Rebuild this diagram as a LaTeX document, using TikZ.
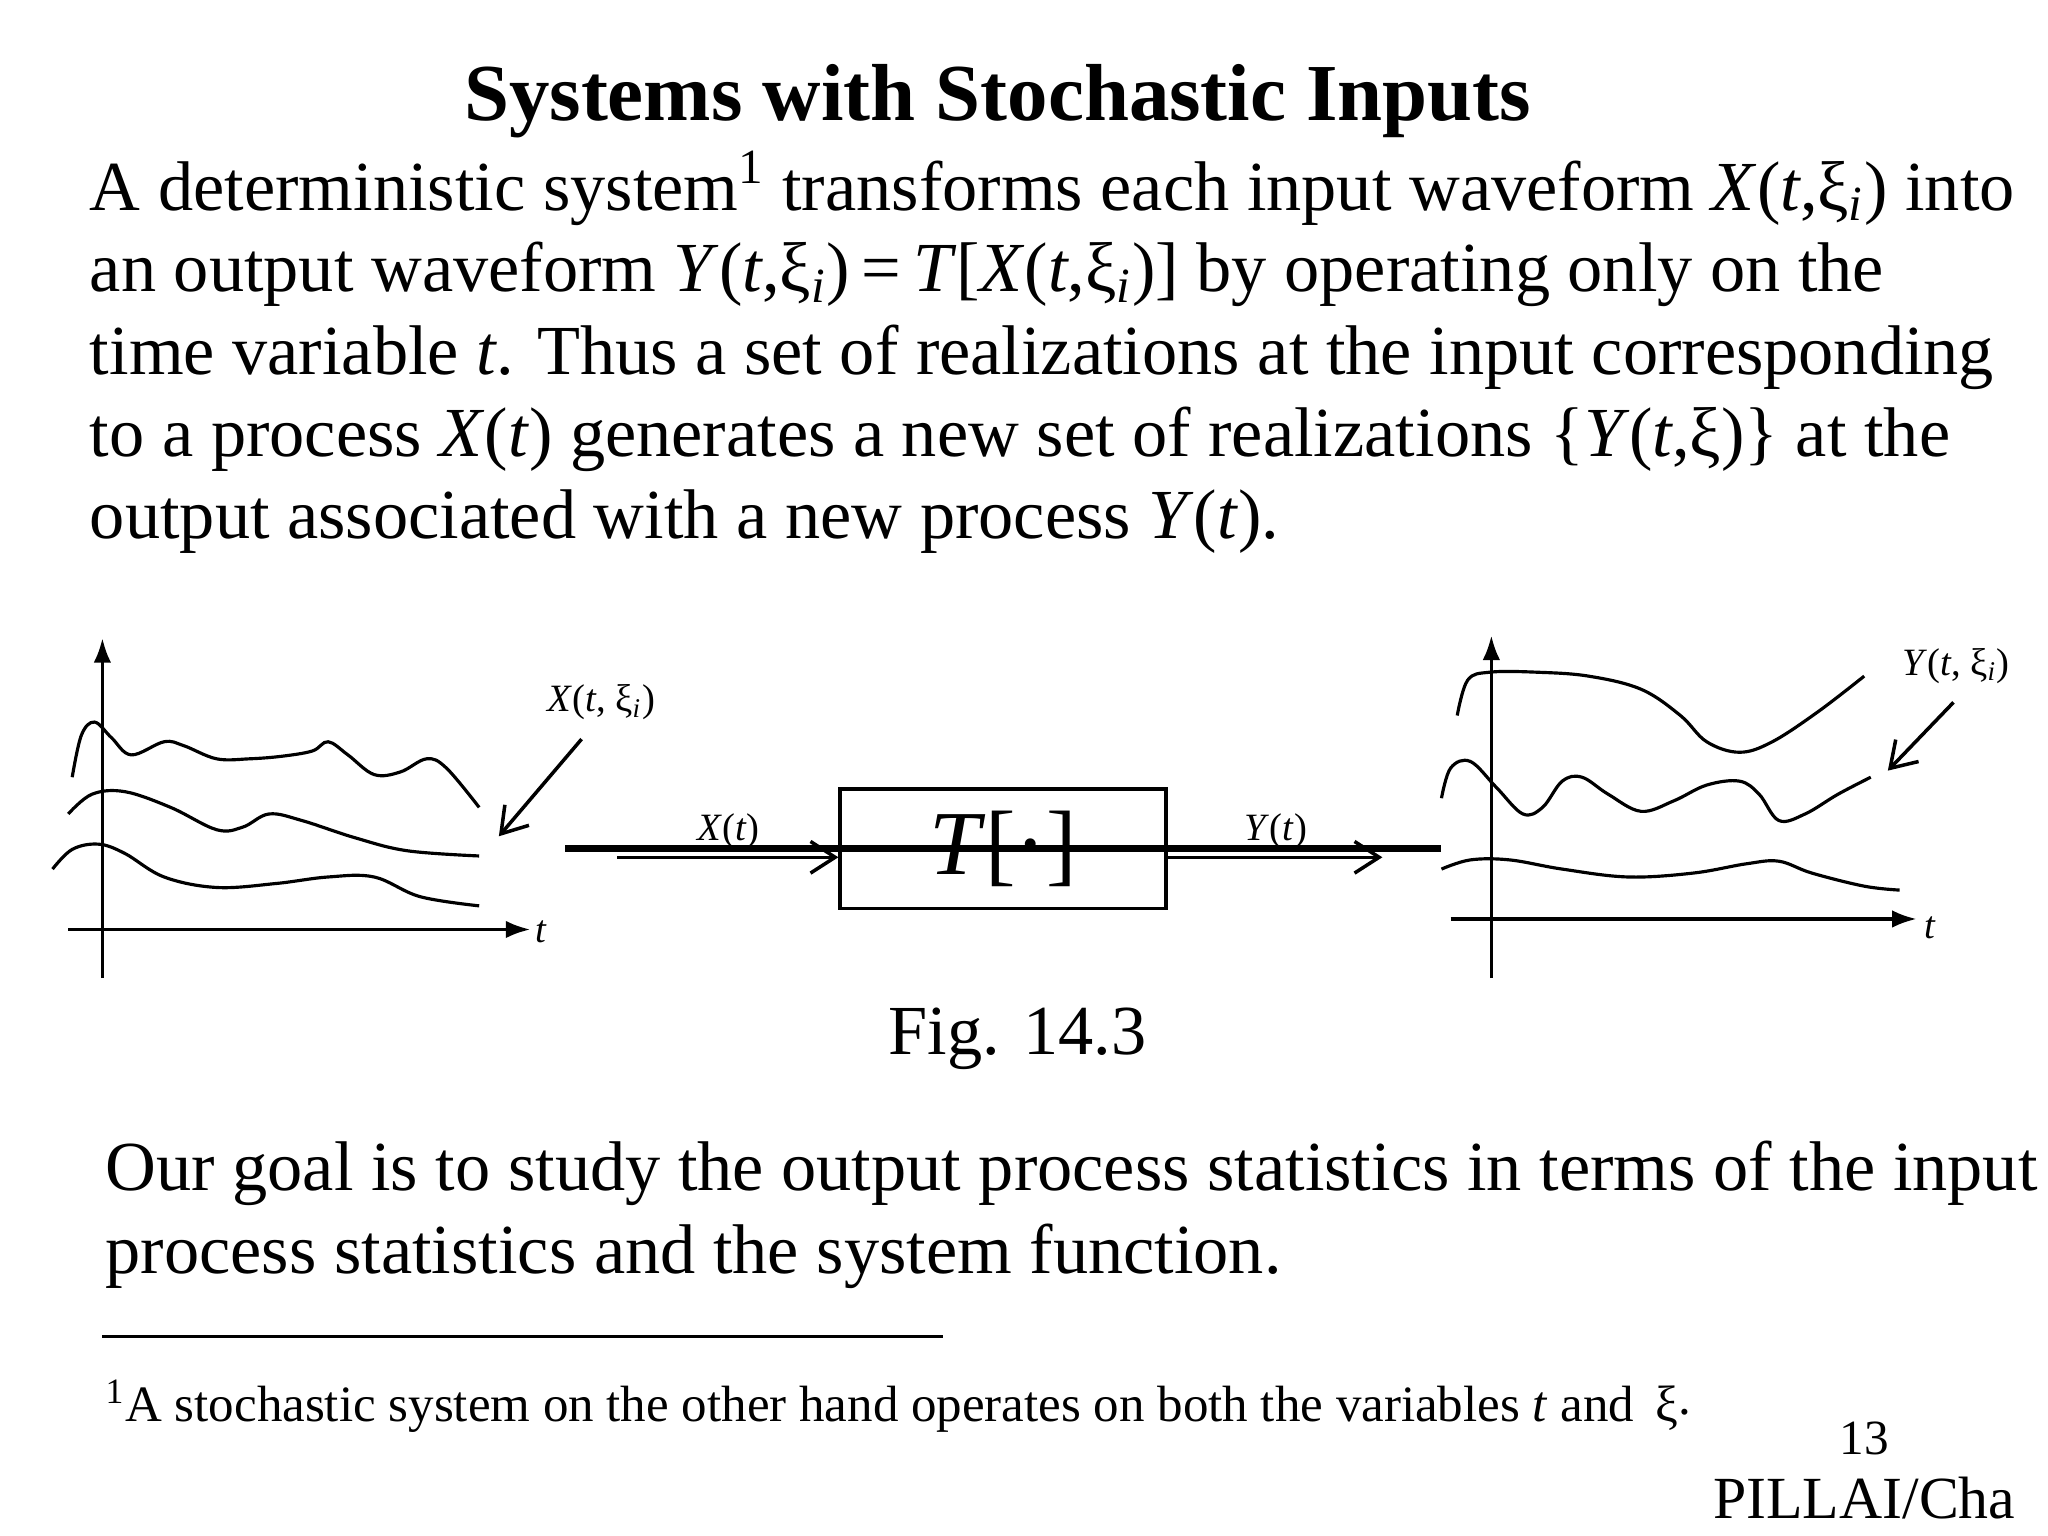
\documentclass[tikz,border=0pt]{standalone}
\usepackage{fontspec}
\setmainfont{Liberation Serif}
\usetikzlibrary{arrows.meta}
\newcommand{\iv}[1]{\textit{#1}}
\begin{document}
\begin{tikzpicture}[x=0.013128cm,y=-0.013128cm,
 body/.style={anchor=base west,inner sep=0,font=\fontsize{20}{24}\selectfont},
 lbl/.style={inner sep=0,font=\fontsize{11}{13}\selectfont},
 curve/.style={line width=0.9pt},
 ax/.style={line width=1pt,-{Latex[length=7pt,width=5pt]}},
 arr/.style={line width=1pt,-{Straight Barb[length=7pt,width=9pt]}}]
\useasboundingbox (0,0) rectangle (1560,1170);
\node[anchor=base,inner sep=0,font=\fontsize{23}{27}\selectfont\bfseries] (title) at (760,92) {Systems with Stochastic Inputs};
\node[body] (l1) at (68,160) {A deterministic system\textsuperscript{1} transforms each input waveform \iv{X}(\iv{t},ξ\textsubscript{\iv{i}}) into};
\node[body] (l2) at (68,222) {an output waveform \iv{Y}(\iv{t},ξ\textsubscript{\iv{i}})\,=\,\iv{T}[\iv{X}(\iv{t},ξ\textsubscript{\iv{i}})] by operating only on the};
\node[body] (l3) at (68,285) {time variable \iv{t}. Thus a set of realizations at the input corresponding};
\node[body] (l4) at (68,348) {to a process \iv{X}(\iv{t}) generates a new set of realizations \{\iv{Y}(\iv{t},ξ)\} at the};
\node[body] (l5) at (68,410) {output associated with a new process \iv{Y}(\iv{t}).};
% left graph
\coordinate (la0) at (78,745); \coordinate (la1) at (78,486);
\coordinate (lh0) at (52,708); \coordinate (lh1) at (404,708);
\draw[ax] (la0) -- (la1);
\draw[ax] (lh0) -- (lh1);
\node[lbl,font=\itshape\fontsize{11}{13}\selectfont] (lt) at (412,710) {t};
\draw[curve] plot[smooth,tension=0.6] coordinates {(55,592) (62,560) (72,550) (85,562) (100,575) (125,565) (140,568) (165,578) (190,578) (215,576) (238,572) (250,565) (265,575) (285,590) (305,588) (325,578) (340,585) (365,615)};
\draw[curve] plot[smooth,tension=0.6] coordinates {(52,620) (70,605) (95,603) (130,615) (165,632) (185,630) (205,620) (230,625) (270,638) (310,648) (365,652)};
\draw[curve] plot[smooth,tension=0.6] coordinates {(40,662) (55,647) (75,643) (95,650) (125,668) (165,676) (210,673) (250,668) (285,668) (320,683) (365,690)};
\node[lbl] (lx) at (458,535) {\iv{X}(\iv{t}, ξ\textsubscript{\iv{i}})};
\coordinate (lxa) at (443,563); \coordinate (lxb) at (380,637);
\draw[arr] (lxa) -- (lxb);
% block
\node[draw,line width=1pt,minimum width=248\pgflinewidth,inner sep=0] (box) at (764,646.5) {};
\node[draw,line width=1pt,inner sep=0,minimum width=3.256cm,minimum height=1.195cm,font=\fontsize{26}{30}\selectfont] (T) at (764,646.5) {\iv{T}[·]};
\coordinate (in) at (470,653);
\coordinate (out) at (1053,653);
\draw[arr] (in) -- (T.west|-in);
\draw[arr] (T.east|-out) -- (out);
\node[lbl] (xt) at (555,633) {\iv{X}(\iv{t})};
\node[lbl] (yt) at (972,633) {\iv{Y}(\iv{t})};
% right graph
\coordinate (ra0) at (1136,745); \coordinate (ra1) at (1136,484);
\coordinate (rh0) at (1105,700); \coordinate (rh1) at (1460,700);
\draw[ax] (ra0) -- (ra1);
\draw[ax] (rh0) -- (rh1);
\node[lbl,font=\itshape\fontsize{11}{13}\selectfont] (rt) at (1470,707) {t};
\draw[curve] plot[smooth,tension=0.6] coordinates {(1110,545) (1118,518) (1135,512) (1170,512) (1210,515) (1250,525) (1280,545) (1300,565) (1325,573) (1350,565) (1385,542) (1420,515)};
\draw[curve] plot[smooth,tension=0.6] coordinates {(1098,608) (1105,585) (1120,580) (1140,600) (1160,620) (1175,615) (1190,595) (1205,592) (1225,605) (1250,618) (1275,610) (1300,598) (1325,595) (1340,605) (1355,625) (1375,620) (1400,605) (1425,592)};
\draw[curve] plot[smooth,tension=0.6] coordinates {(1098,662) (1120,655) (1150,655) (1190,662) (1240,668) (1290,665) (1330,658) (1355,656) (1380,665) (1420,675) (1447,678)};
\node[lbl] (ry) at (1490,507) {\iv{Y}(\iv{t}, ξ\textsubscript{\iv{i}})};
\coordinate (rya) at (1488,535); \coordinate (ryb) at (1438,587);
\draw[arr] (rya) -- (ryb);
\node[anchor=base,inner sep=0,font=\fontsize{20}{24}\selectfont] (fig) at (775,803) {Fig. 14.3};
\node[body] (g1) at (80,907) {Our goal is to study the output process statistics in terms of the input};
\node[body] (g2) at (80,970) {process statistics and the system function.};
\coordinate (fr0) at (78,1018); \coordinate (fr1) at (718,1018);
\draw[line width=0.8pt] (fr0) -- (fr1);
\node[anchor=base west,inner sep=0,font=\fontsize{14.5}{17}\selectfont] (fn) at (80,1083) {\textsuperscript{1}A stochastic system on the other hand operates on both the variables \iv{t} and\, ξ\raisebox{0.3ex}{.}};
\node[anchor=base,inner sep=0,font=\fontsize{14}{17}\selectfont] (pg) at (1420,1108) {13};
\node[anchor=base,inner sep=0,font=\fontsize{17}{20}\selectfont] (pl) at (1420,1157) {PILLAI/Cha};
\end{tikzpicture}
\end{document}
